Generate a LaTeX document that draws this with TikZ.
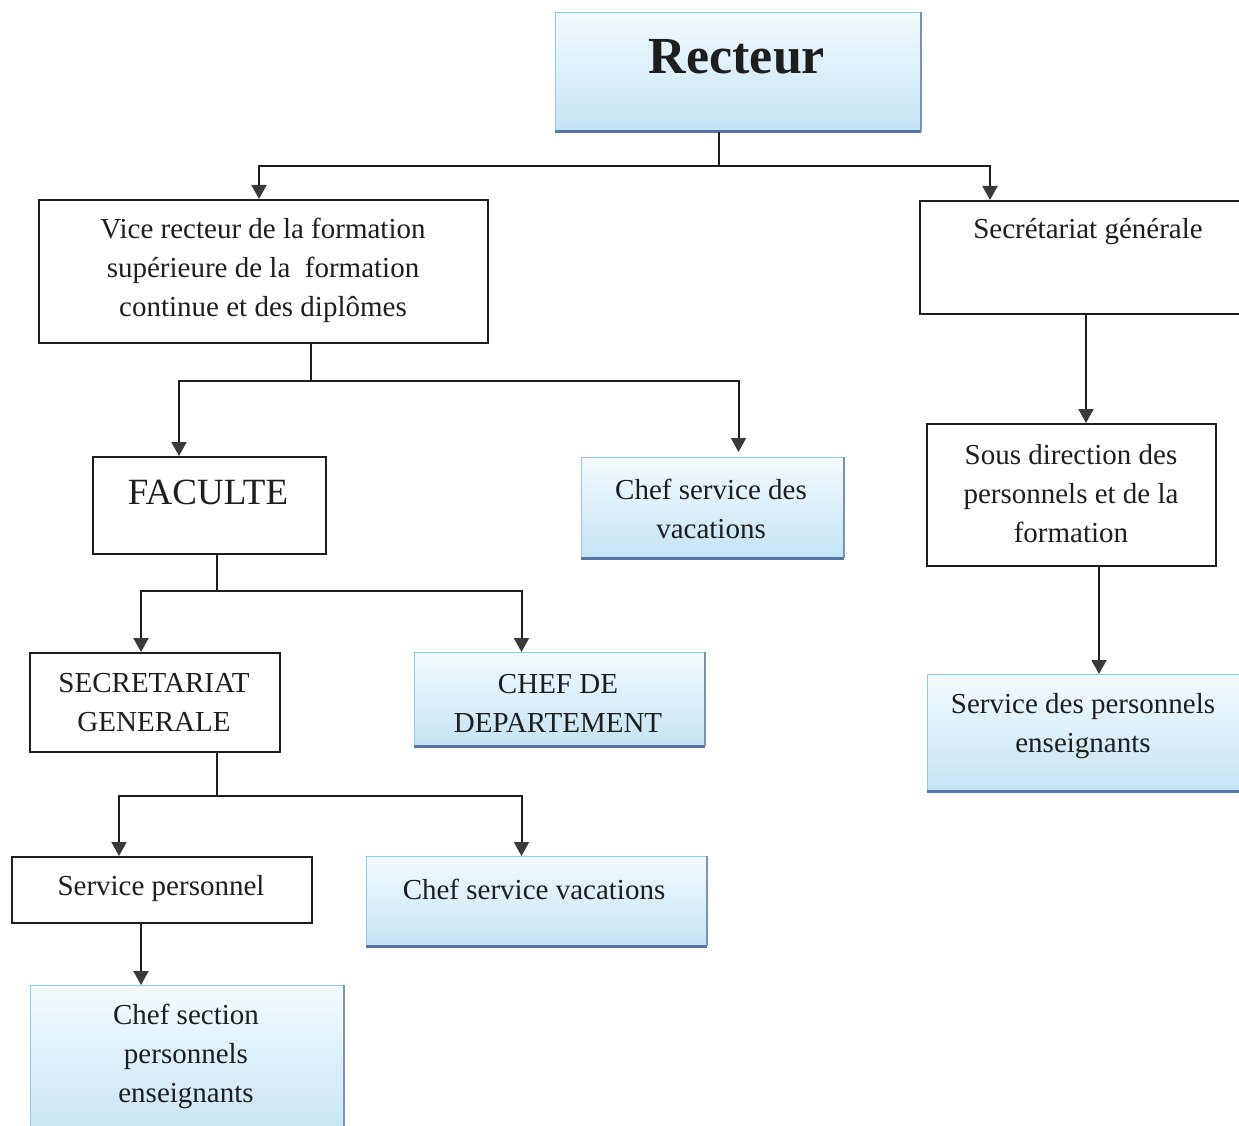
\documentclass[tikz,border=0pt]{standalone}
\usepackage{fontspec}
\setmainfont{Liberation Serif}
\usetikzlibrary{arrows.meta}

\definecolor{ink}{HTML}{1E1E1E}
\definecolor{tipgrey}{HTML}{3A3A3A}
\definecolor{paleblue}{HTML}{C4E4F4}
\definecolor{topblue}{HTML}{F4FAFD}
\definecolor{edgeblue}{HTML}{8ACDE8}
\definecolor{baseblue}{HTML}{5575A8}
\definecolor{sideblue}{HTML}{7F93A8}

\tikzset{
  plainbox/.style={rectangle, draw=ink, line width=2pt, fill=white, inner sep=0pt, anchor=north west},
  bluebox/.style={rectangle, draw=edgeblue, line width=1pt, top color=topblue, bottom color=paleblue, inner sep=0pt, anchor=north west},
  txt/.style={font=\fontsize{29}{39}\selectfont, text=ink, align=center, inner sep=0pt},
  link/.style={draw=ink, line width=2pt},
  arr/.style={link, -{Triangle[width=15pt,length=14pt,color=tipgrey]}},
}

\begin{document}
\begin{tikzpicture}[x=1pt,y=1pt]
\useasboundingbox (0,0) rectangle (1239,-1126);
\fill[white] (0,0) rectangle (1239,-1126);
\clip (0,0) rectangle (1239,-1126);

% boxes
\node[bluebox, minimum width=365pt, minimum height=119pt] (rect) at (555,-12) {};
\node[plainbox, minimum width=449pt, minimum height=143pt] (vice) at (38,-199) {};
\node[plainbox, minimum width=331pt, minimum height=113pt] (sg) at (919,-200) {};
\node[plainbox, minimum width=233pt, minimum height=97pt] (fac) at (92,-456) {};
\node[bluebox, minimum width=262pt, minimum height=100pt] (csv) at (581,-457) {};
\node[plainbox, minimum width=289pt, minimum height=142pt] (sous) at (926,-423) {};
\node[plainbox, minimum width=250pt, minimum height=99pt] (sgen) at (29,-652) {};
\node[bluebox, minimum width=290pt, minimum height=93pt] (chefdep) at (414,-652) {};
\node[bluebox, minimum width=320pt, minimum height=116pt] (spe) at (927,-674) {};
\node[plainbox, minimum width=300pt, minimum height=66pt] (sp) at (11,-856) {};
\node[bluebox, minimum width=340pt, minimum height=89pt] (csvac) at (366,-856) {};
\node[bluebox, minimum width=313pt, minimum height=160pt] (csec) at (30,-985) {};

% darker lower and right edges of the shaded boxes
\foreach \n in {rect, csv, chefdep, spe, csvac, csec} {
  \draw[baseblue, line width=3pt] (\n.south west) -- (\n.south east);
  \draw[sideblue, line width=1.2pt] (\n.north east) -- (\n.south east);
}

% texts
\node[txt, font=\fontsize{52}{60}\selectfont\bfseries] (trect) at (737,-57) {Recteur};
\node[txt] (tvice) at (263,-270) {Vice recteur de la formation\\supérieure de la~ formation\\continue et des diplômes};
\node[txt] (tsg) at (1088,-232) {Secrétariat générale};
\node[txt, font=\fontsize{37}{44}\selectfont] (tfac) at (208,-492) {FACULTE};
\node[txt] (tcsv) at (711,-509) {Chef service des\\vacations};
\node[txt] (tsous) at (1071,-494) {Sous direction des\\personnels et de la\\formation};
\node[txt] (tsgen) at (154,-703) {SECRETARIAT\\GENERALE};
\node[txt] (tchefdep) at (558,-703) {CHEF DE\\DEPARTEMENT};
\node[txt] (tspe) at (1083,-726) {Service des personnels\\enseignants};
\node[txt] (tsp) at (161,-889) {Service personnel};
\node[txt] (tcsvac) at (534,-889) {Chef service vacations};
\node[txt] (tcsec) at (186,-1056) {Chef section\\personnels\\enseignants};

% connectors
\coordinate (b1) at (719,-166);
\draw[link] (b1 |- rect.south) -- (b1);
\draw[arr] (b1) -| ([xshift=-4.5pt]vice.north);
\draw[arr] (b1) -| ([xshift=71pt]sg.north west);

\coordinate (b2) at (311,-381);
\draw[link] (b2 |- vice.south) -- (b2);
\draw[arr] (b2) -| ([xshift=87pt]fac.north west);
\draw[arr] (b2) -| ([xshift=26pt,yshift=5pt]csv.north);

\draw[arr] ([xshift=167pt]sg.south west) coordinate (s1) -- (s1 |- sous.north);
\draw[arr] ([xshift=27.5pt]sous.south) coordinate (s2) -- (s2 |- spe.north);

\coordinate (b3) at (217,-591);
\draw[link] (b3 |- fac.south) -- (b3);
\draw[arr] (b3) -| ([xshift=-14pt]sgen.north);
\draw[arr] (b3) -| ([xshift=-38pt]chefdep.north);

\coordinate (b4) at (217,-796);
\draw[link] (b4 |- sgen.south) -- (b4);
\draw[arr] (b4) -| ([xshift=-43pt]sp.north);
\draw[arr] (b4) -| ([xshift=-15pt]csvac.north);

\draw[arr] ([xshift=-21pt]sp.south) coordinate (s3) -- (s3 |- csec.north);
\end{tikzpicture}
\end{document}
